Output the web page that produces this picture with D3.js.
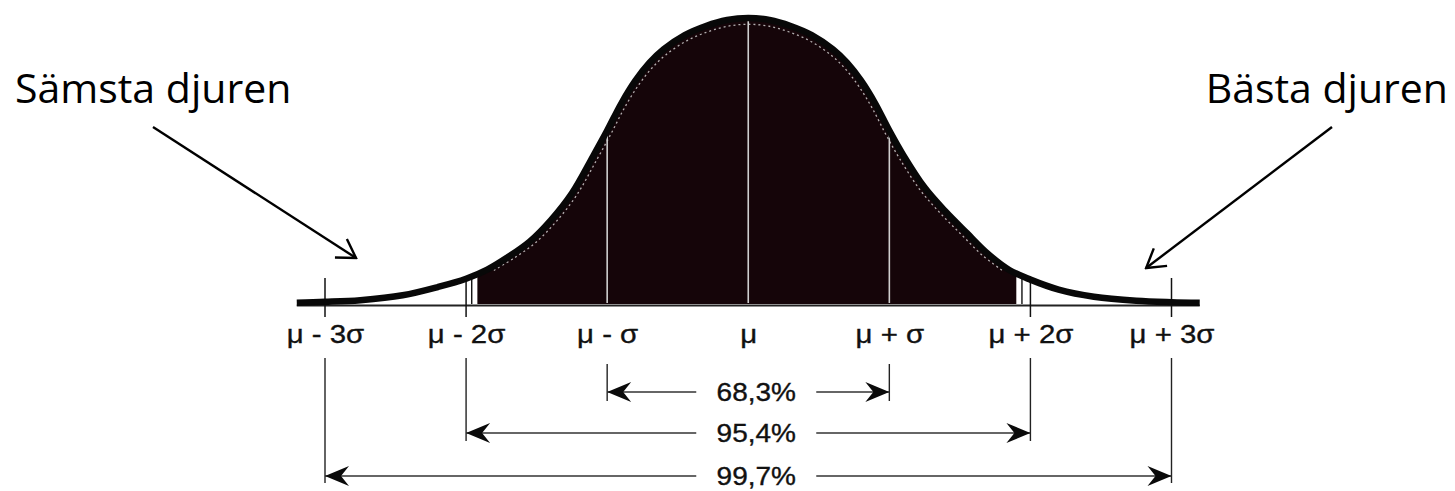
<!DOCTYPE html>
<html><head><meta charset="utf-8">
<script src="https://cdn.jsdelivr.net/npm/d3@7"></script>
<style>html,body{margin:0;padding:0;background:#fff;overflow:hidden}</style>
</head><body><svg id="c" width="1455" height="491" xmlns="http://www.w3.org/2000/svg"></svg>
<script>
// ---- data ----
const sigmaTicks = [-3, -2, -1, 0, 1, 2, 3];
const tickLabels = ["μ - 3σ", "μ - 2σ", "μ - σ", "μ", "μ + σ", "μ + 2σ", "μ + 3σ"];
const curveSigma = [-3.2, -3.0, -2.75, -2.45, -2.2, -2.0, -1.85, -1.7, -1.55, -1.4, -1.25, -1.1, -1.0, -0.9, -0.8, -0.7, -0.6, -0.45, -0.3, -0.15, 0,
                    0.15, 0.3, 0.45, 0.6, 0.7, 0.8, 0.9, 1.0, 1.1, 1.25, 1.4, 1.55, 1.7, 1.85, 2.0, 2.2, 2.45, 2.75, 3.0, 3.2];
const curveHeight = [0.001, 0.004, 0.010, 0.027, 0.056, 0.085, 0.117, 0.162, 0.215, 0.290, 0.385, 0.515, 0.605, 0.700, 0.780, 0.843, 0.890, 0.940, 0.972, 0.993, 1.0,
                     0.993, 0.972, 0.940, 0.890, 0.843, 0.780, 0.700, 0.605, 0.518, 0.405, 0.320, 0.245, 0.172, 0.116, 0.082, 0.047, 0.022, 0.008, 0.003, 0.001];
const rangeSigma = [1, 2, 3];
const rangeLabels = ["68,3%", "95,4%", "99,7%"];
const tailLabels = ["Sämsta djuren", "Bästa djuren"];

// ---- drawing ----
const svg = d3.select("#c");
svg.append("rect").attr("width", 1455).attr("height", 491).attr("fill", "#fff");
const x = d3.scaleLinear().domain([-3, 3]).range([325, 1171.5]);
const y = d3.scaleLinear().domain([0, 1]).range([303, 18]);
const pts = curveSigma.map((s, i) => [s, curveHeight[i]]);
const smooth = d3.curveCatmullRom.alpha(0.5);

const defs = svg.append("defs");
const areaGen = d3.area().x(d => x(d[0])).y0(y(0) + 1).y1(d => y(d[1])).curve(smooth);
const lineGen = d3.line().x(d => x(d[0])).y(d => y(d[1])).curve(smooth);

defs.append("clipPath").attr("id", "under").append("path").attr("d", areaGen(pts));
defs.append("clipPath").attr("id", "mid").append("rect")
  .attr("x", x(-1.92)).attr("y", 0).attr("width", x(1.90) - x(-1.92)).attr("height", 320);

// black body between about -1.92σ and +1.90σ
svg.append("path").attr("d", areaGen(pts)).attr("fill", "#150509").attr("clip-path", "url(#mid)");

// scan-like inner dotted highlight along the curve
const innerLine = d3.line()
  .x(d => x(0) + (x(d[0]) - x(0)) * 0.975)
  .y(d => y(d[1] * 0.978))
  .curve(smooth);
const gInner = svg.append("g").attr("clip-path", "url(#mid)");
gInner.append("g").attr("clip-path", "url(#under)")
  .append("path").attr("d", innerLine(pts.filter(p => Math.abs(p[0]) <= 1.9)))
  .attr("fill", "none").attr("stroke", "#e8e8e8").attr("stroke-width", 1.3)
  .attr("stroke-dasharray", "2,3").attr("opacity", 0.75);

// light vertical lines inside the body, and thin lines near ±2σ
const gUnder = svg.append("g").attr("clip-path", "url(#under)");
[-1, 0, 1].forEach(s => {
  gUnder.append("line").attr("x1", x(s)).attr("x2", x(s)).attr("y1", 0).attr("y2", y(0))
    .attr("stroke", "#cfcfcf").attr("stroke-width", 1.6);
});
[-1.96, 1.94].forEach(s => {
  gUnder.append("line").attr("x1", x(s)).attr("x2", x(s)).attr("y1", 200).attr("y2", y(0) + 2)
    .attr("stroke", "#111").attr("stroke-width", 1.4);
});

// baseline
svg.append("line").attr("x1", x(-3.2)).attr("x2", x(3.2)).attr("y1", 305.5).attr("y2", 305.5)
  .attr("stroke", "#222").attr("stroke-width", 2);

// ticks at ±2σ, ±3σ
[-3, -2, 2, 3].forEach(s => {
  svg.append("line").attr("x1", x(s)).attr("x2", x(s)).attr("y1", 278).attr("y2", 317)
    .attr("stroke", "#111").attr("stroke-width", 1.5);
});

// thick curve
svg.append("path").attr("d", lineGen(pts)).attr("fill", "none")
  .attr("stroke", "#080808").attr("stroke-width", 6.5).attr("stroke-linejoin", "round");

// axis labels
const axis = d3.axisBottom(x).tickValues(sigmaTicks)
  .tickFormat((d, i) => tickLabels[i]).tickSize(0);
const gAxis = svg.append("g").attr("transform", "translate(0,343)").call(axis);
gAxis.select(".domain").remove();
gAxis.selectAll("text")
  .attr("y", 0).attr("dy", 0)
  .attr("transform", "scale(1.13,1)")
  .attr("fill", "#111").attr("stroke", "#111").attr("stroke-width", 0.35)
  .style("font-family", "'Liberation Sans', Arial, sans-serif")
  .style("font-size", "26px")
  .style("white-space", "pre");

// range brackets with arrows
defs.append("marker").attr("id", "stealth").attr("markerUnits", "userSpaceOnUse")
  .attr("viewBox", "-26 -11 28 22").attr("refX", 0).attr("refY", 0)
  .attr("markerWidth", 28).attr("markerHeight", 22).attr("orient", "auto")
  .append("path").attr("d", "M0,0 L-24,-10 L-16,0 L-24,10 Z").attr("fill", "#0a0a0a");

const rowY = [392, 433, 476];
const bracketBottom = [401, 441, 483];
const textCx = x(0) + 8;
rangeSigma.forEach((k, i) => {
  const g = svg.append("g");
  [-k, k].forEach(s => {
    g.append("line").attr("x1", x(s)).attr("x2", x(s)).attr("y1", k === 1 ? 364 : 358).attr("y2", bracketBottom[i])
      .attr("stroke", "#222").attr("stroke-width", 1.4);
  });
  g.append("line").attr("x1", textCx - 60).attr("x2", x(-k)).attr("y1", rowY[i]).attr("y2", rowY[i])
    .attr("stroke", "#333").attr("stroke-width", 1.6).attr("marker-end", "url(#stealth)");
  g.append("line").attr("x1", textCx + 60).attr("x2", x(k)).attr("y1", rowY[i]).attr("y2", rowY[i])
    .attr("stroke", "#333").attr("stroke-width", 1.6).attr("marker-end", "url(#stealth)");
  g.append("text").attr("transform", `translate(${textCx},${rowY[i] + 9}) scale(1.12,1)`)
    .attr("text-anchor", "middle").attr("fill", "#111").attr("stroke", "#111").attr("stroke-width", 0.35)
    .style("font-family", "'Liberation Sans', Arial, sans-serif").style("font-size", "25px")
    .text(rangeLabels[i]);
});

// tail annotations
defs.append("marker").attr("id", "open").attr("markerUnits", "userSpaceOnUse")
  .attr("viewBox", "-22 -13 24 26").attr("refX", 0).attr("refY", 0)
  .attr("markerWidth", 24).attr("markerHeight", 26).attr("orient", "auto")
  .append("path").attr("d", "M-18,-11 L0,0 L-18,11").attr("fill", "none")
  .attr("stroke", "#000").attr("stroke-width", 2.4).attr("stroke-linejoin", "miter");

svg.append("text").attr("x", 15).attr("y", 103).attr("fill", "#000")
  .style("font-family", "'Open Sans', sans-serif").style("font-size", "41px")
  .text(tailLabels[0]);
svg.append("text").attr("x", 1448).attr("y", 103).attr("text-anchor", "end").attr("fill", "#000")
  .style("font-family", "'Open Sans', sans-serif").style("font-size", "41px")
  .text(tailLabels[1]);

svg.append("line").attr("x1", 153).attr("y1", 127).attr("x2", x(-2.78)).attr("y2", 258)
  .attr("stroke", "#000").attr("stroke-width", 2.4).attr("marker-end", "url(#open)");
svg.append("line").attr("x1", 1332).attr("y1", 127).attr("x2", x(2.82)).attr("y2", 268)
  .attr("stroke", "#000").attr("stroke-width", 2.4).attr("marker-end", "url(#open)");
</script>
</body></html>
